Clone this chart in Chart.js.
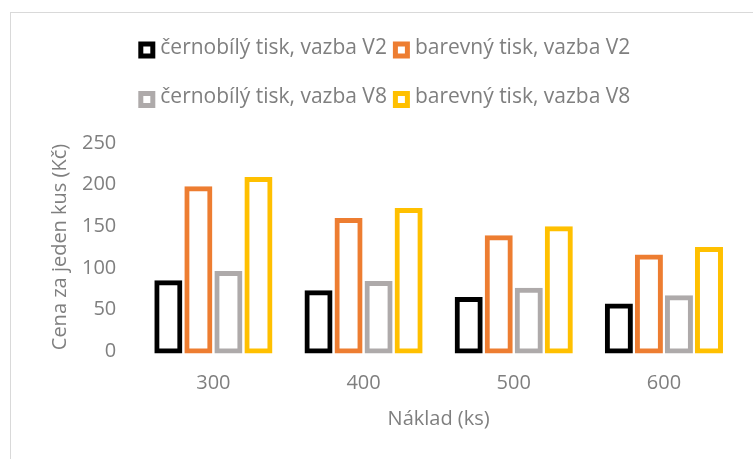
<!DOCTYPE html>
<html>
<head>
<meta charset="utf-8">
<script src="https://cdn.jsdelivr.net/npm/chart.js@4/dist/chart.umd.min.js"></script>
<style>
  body { margin: 0; background: #fff; }
  #wrap { position: relative; width: 753px; height: 459px; overflow: hidden; }
  #frame { position: absolute; left: 10px; top: 12px; width: 800px; height: 500px;
           border-left: 1px solid #d9d9d9; border-top: 1px solid #d9d9d9; }
  canvas { position: absolute; left: 0; top: 0; }
</style>
</head>
<body>
<div id="wrap">
  <div id="frame"></div>
  <canvas id="chart" width="753" height="459"></canvas>
</div>
<script>
// data
const categories = ["300", "400", "500", "600"];
const seriesNames = [
    "černobílý tisk, vazba V2",
    "barevný tisk, vazba V2",
    "černobílý tisk, vazba V8",
    "barevný tisk, vazba V8"
];
const bwV2 = [82, 70, 62, 54];
const colorV2 = [195, 157, 136, 113];
const bwV8 = [93, 81, 73, 64];
const colorV8 = [206, 169, 147, 122];
const yTicks = [0, 50, 100, 150, 200, 250];

const seriesColors = ["#000000", "#ED7D31", "#AEAAAA", "#FFC000"];
const textColor = "#7f7f7f";
const fontFamily = "'Open Sans', 'Noto Sans', sans-serif";

Chart.defaults.font.family = fontFamily;
Chart.defaults.font.size = 20;
Chart.defaults.color = textColor;

// legend in two rows like the original, box with thick border
const legendRows = [[0, 1], [2, 3]];
const boxLegend = {
    id: "boxLegend",
    afterDraw(chart) {
        const ctx = chart.ctx;
        ctx.save();
        ctx.font = "21px " + fontFamily;
        ctx.textBaseline = "middle";
        legendRows.forEach((row, r) => {
            let x = chart.chartArea.left;
            const y = 50 + r * 49.5;
            row.forEach(i => {
                const ds = chart.data.datasets[i];
                ctx.fillStyle = "#fff";
                ctx.fillRect(x, y - 8.5, 17, 17);
                ctx.strokeStyle = ds.borderColor;
                ctx.lineWidth = 5;
                ctx.strokeRect(x + 2.5, y - 6, 12, 12);
                ctx.fillStyle = textColor;
                ctx.fillText(ds.label, x + 22, y - 2);
                x += 22 + ctx.measureText(ds.label).width + 6;
            });
        });
        ctx.restore();
    }
};

const seriesData = [bwV2, colorV2, bwV8, colorV8];

new Chart(document.getElementById("chart"), {
    type: "bar",
    data: {
        labels: categories,
        datasets: seriesData.map((d, i) => ({
            label: seriesNames[i],
            data: d,
            backgroundColor: "#ffffff",
            borderColor: seriesColors[i],
            borderWidth: 5,
            borderSkipped: false,
            inflateAmount: 2.5,
            clip: false,
            categoryPercentage: 0.8,
            barPercentage: 0.767
        }))
    },
    options: {
        responsive: false,
        animation: false,
        layout: {
            padding: { top: 143, left: 48, right: 14, bottom: 28 }
        },
        plugins: {
            legend: { display: false },
            tooltip: { enabled: false }
        },
        scales: {
            x: {
                grid: { display: false, drawTicks: false },
                border: { display: false },
                ticks: { padding: 20 },
                title: {
                    display: true,
                    text: "Náklad (ks)",
                    padding: { top: -8, bottom: 0 }
                }
            },
            y: {
                min: yTicks[0],
                max: yTicks[yTicks.length - 1],
                grid: { display: false, drawTicks: false },
                border: { display: false },
                ticks: { stepSize: yTicks[1] - yTicks[0], padding: 22 },
                title: {
                    display: true,
                    text: "Cena za jeden kus (Kč)",
                    padding: { top: 0, bottom: -12 }
                }
            }
        }
    },
    plugins: [boxLegend]
});
</script>
</body>
</html>
